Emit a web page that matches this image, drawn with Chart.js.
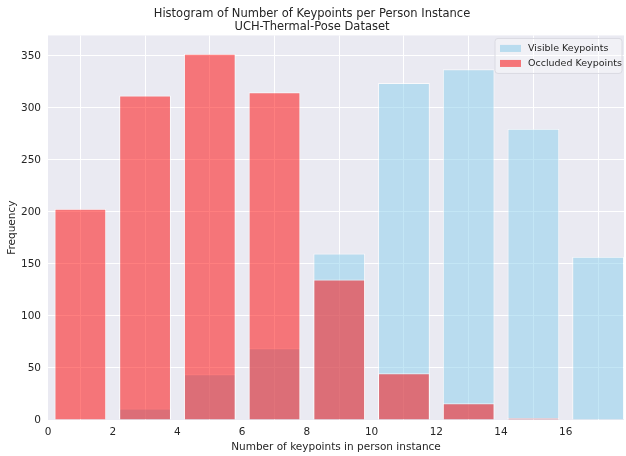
<!DOCTYPE html>
<html>
<head>
<meta charset="utf-8">
<script src="https://cdn.jsdelivr.net/npm/chart.js@4/dist/chart.umd.min.js"></script>
<style>
  html, body { margin: 0; padding: 0; background: #ffffff; }
  #wrap { width: 626px; height: 456px; }
</style>
</head>
<body>
<div id="wrap"><canvas id="histChart" width="626" height="456"></canvas></div>
<script>
// bin centres (bins of width 2)
const binCenters = [1, 3, 5, 7, 9, 11, 13, 15, 17];
const visibleCounts = [0, 11, 44, 69, 160, 324, 337, 280, 157];
const occludedCounts = [203, 312, 352, 315, 135, 45, 16, 2, 0];
const xTicks = [0, 2, 4, 6, 8, 10, 12, 14, 16];
const yTicks = [0, 50, 100, 150, 200, 250, 300, 350];

const FONT = "'DejaVu Sans', sans-serif";
const TEXT = '#262626';

function toPoints(values) {
    return binCenters.map((c, i) => ({ x: c, y: values[i] }));
}

// legend drawn inside the plot, upper right, like matplotlib
const innerLegend = {
    id: 'innerLegend',
    afterDraw(chart) {
        const ctx = chart.ctx;
        const area = chart.chartArea;
        const items = [
            { label: 'Visible Keypoints', color: 'rgba(135,206,235,0.5)' },
            { label: 'Occluded Keypoints', color: 'rgba(255,0,0,0.5)' }
        ];
        const w = 127, h = 35;
        const x0 = area.right - w - 2, y0 = area.top + 3;
        ctx.save();
        ctx.beginPath();
        ctx.roundRect(x0, y0, w, h, 3);
        ctx.fillStyle = 'rgba(255,255,255,0.35)';
        ctx.fill();
        ctx.strokeStyle = 'rgba(218,218,226,1)';
        ctx.lineWidth = 1;
        ctx.stroke();
        ctx.font = '9.5px ' + FONT;
        ctx.textBaseline = 'middle';
        items.forEach((it, i) => {
            const cy = y0 + 10 + i * 15;
            ctx.fillStyle = '#eaeaf2';
            ctx.fillRect(x0 + 5, cy - 3.5, 21, 7);
            ctx.fillStyle = it.color;
            ctx.fillRect(x0 + 5, cy - 3.5, 21, 7);
            ctx.fillStyle = TEXT;
            ctx.fillText(it.label, x0 + 33, cy + 0.5);
        });
        ctx.restore();
    }
};

// darkgrid background
const plotBackground = {
    id: 'plotBackground',
    beforeDraw(chart) {
        const a = chart.chartArea;
        const ctx = chart.ctx;
        ctx.save();
        ctx.fillStyle = '#eaeaf2';
        ctx.fillRect(a.left, a.top, a.right - a.left, a.bottom - a.top);
        ctx.restore();
    }
};

const ctx = document.getElementById('histChart').getContext('2d');
const histChart = new Chart(ctx, {
    type: 'bar',
    data: {
        datasets: [
            {
                label: 'Visible Keypoints',
                data: toPoints(visibleCounts),
                backgroundColor: 'rgba(135,206,235,0.5)',
                borderColor: 'rgba(255,255,255,0.7)',
                borderWidth: 1,
                order: 1
            },
            {
                label: 'Occluded Keypoints',
                data: toPoints(occludedCounts),
                backgroundColor: 'rgba(255,0,0,0.5)',
                borderColor: 'rgba(255,255,255,0.7)',
                borderWidth: 1,
                order: 0
            }
        ]
    },
    options: {
        responsive: false,
        animation: false,
        devicePixelRatio: 1,
        grouped: false,
        barPercentage: 0.8,
        categoryPercentage: 1.0,
        layout: { padding: { left: 0, right: 2, top: 0, bottom: 0 } },
        plugins: {
            legend: { display: false },
            tooltip: { enabled: false },
            title: {
                display: true,
                text: ['Histogram of Number of Keypoints per Person Instance', 'UCH-Thermal-Pose Dataset'],
                color: TEXT,
                font: { family: FONT, size: 11.5, weight: 'normal', lineHeight: 1.15 },
                padding: { top: 7, bottom: 2 }
            }
        },
        scales: {
            x: {
                type: 'linear',
                min: 0,
                max: 17.8,
                offset: false,
                grid: { color: '#ffffff', lineWidth: 1, drawTicks: false },
                border: { display: false },
                ticks: {
                    stepSize: 2,
                    includeBounds: false,
                    autoSkip: false,
                    color: TEXT,
                    padding: 6,
                    maxRotation: 0,
                    font: { family: FONT, size: 10.5 }
                },
                title: {
                    display: true,
                    text: 'Number of keypoints in person instance',
                    color: TEXT,
                    font: { family: FONT, size: 10.5 },
                    padding: { top: 1, bottom: 2 }
                },
                afterFit(scale) { scale.height = 36; }
            },
            y: {
                min: 0,
                max: 369.6,
                grid: { color: '#ffffff', lineWidth: 1, drawTicks: false },
                border: { display: false },
                afterBuildTicks(scale) {
                    scale.ticks = yTicks.map(v => ({ value: v }));
                },
                ticks: {
                    color: TEXT,
                    padding: 7,
                    font: { family: FONT, size: 10.5 }
                },
                title: {
                    display: true,
                    text: 'Frequency',
                    color: TEXT,
                    font: { family: FONT, size: 10.5 },
                    padding: { top: 6, bottom: 0 }
                },
                afterFit(scale) { scale.width = 48; }
            }
        }
    },
    plugins: [plotBackground, innerLegend]
});
</script>
</body>
</html>
